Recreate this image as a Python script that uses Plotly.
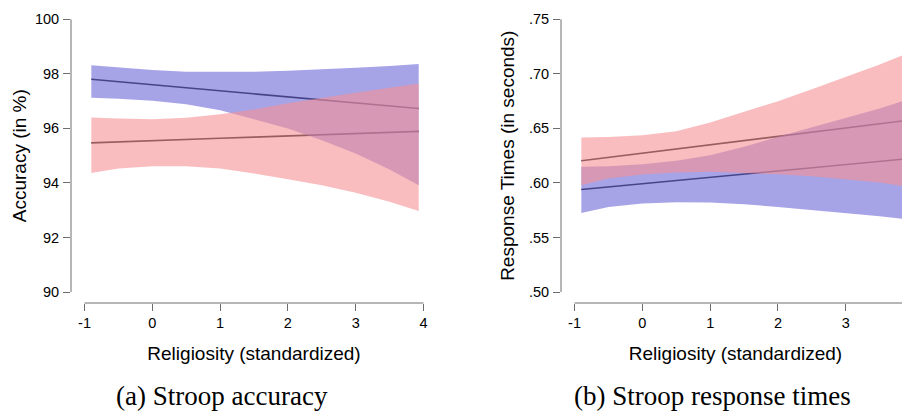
import plotly.graph_objects as go

# Religiosity (standardized) sample points
x = [-0.9, -0.5, 0, 0.5, 1, 1.5, 2, 2.5, 3, 3.5, 3.93]

# (a) Stroop accuracy (in %)
acc_blue_fit = [97.80, 97.71, 97.60, 97.49, 97.38, 97.27, 97.16, 97.05, 96.94, 96.83, 96.73]
acc_blue_hi = [98.32, 98.24, 98.14, 98.08, 98.07, 98.08, 98.11, 98.16, 98.22, 98.29, 98.36]
acc_blue_lo = [97.12, 97.09, 97.01, 96.89, 96.67, 96.33, 96.00, 95.57, 95.08, 94.49, 93.92]
acc_red_fit = [95.47, 95.50, 95.55, 95.59, 95.64, 95.68, 95.72, 95.77, 95.81, 95.85, 95.89]
acc_red_hi = [96.40, 96.36, 96.34, 96.39, 96.52, 96.69, 96.92, 97.12, 97.31, 97.49, 97.65]
acc_red_lo = [94.37, 94.53, 94.61, 94.61, 94.53, 94.35, 94.14, 93.92, 93.64, 93.31, 92.97]

# (b) Stroop response times (in seconds)
rt_blue_fit = [0.5940, 0.5963, 0.5993, 0.6022, 0.6052, 0.6081, 0.6110, 0.6140, 0.6169, 0.6198, 0.6224]
rt_blue_hi = [0.6148, 0.6154, 0.6172, 0.6203, 0.6255, 0.6331, 0.6423, 0.6509, 0.6591, 0.6683, 0.6769]
rt_blue_lo = [0.5725, 0.5780, 0.5811, 0.5823, 0.5820, 0.5805, 0.5780, 0.5753, 0.5725, 0.5695, 0.5664]
rt_red_fit = [0.6203, 0.6234, 0.6272, 0.6311, 0.6349, 0.6388, 0.6426, 0.6465, 0.6503, 0.6542, 0.6576]
rt_red_hi = [0.6417, 0.6422, 0.6438, 0.6475, 0.6555, 0.6650, 0.6750, 0.6860, 0.6975, 0.7085, 0.7195]
rt_red_lo = [0.5979, 0.6040, 0.6077, 0.6096, 0.6102, 0.6092, 0.6080, 0.6062, 0.6034, 0.6004, 0.5964]

x_ticks = [-1, 0, 1, 2, 3, 4]
acc_ticks = [90, 92, 94, 96, 98, 100]
rt_ticks = [0.50, 0.55, 0.60, 0.65, 0.70, 0.75]
rt_ticktext = [".50", ".55", ".60", ".65", ".70", ".75"]

BLUE = "rgba(108,102,215,0.6)"
RED = "rgba(245,145,148,0.6)"
AXC = "#6e6e6e"
SANS = "Liberation Sans, Arial, sans-serif"
SERIF = "Liberation Serif, Times New Roman, serif"

# page body has an 8px margin, so the figure is sized to fill the rest of the window
W, H = 902, 404
OFF = 8

fig = go.Figure()


def add_panel(xa, ya, fits, bands):
    for f in fits:
        fig.add_trace(go.Scatter(x=x, y=f, mode="lines", line=dict(color="#111111", width=1.6),
                                 xaxis=xa, yaxis=ya, showlegend=False, hoverinfo="skip"))
    for hi, lo, col in bands:
        fig.add_trace(go.Scatter(x=x + x[::-1], y=hi + lo[::-1], mode="lines", fill="toself",
                                 fillcolor=col, line=dict(width=0), xaxis=xa, yaxis=ya,
                                 showlegend=False, hoverinfo="skip"))


add_panel("x", "y", [acc_blue_fit, acc_red_fit],
          [(acc_blue_hi, acc_blue_lo, BLUE), (acc_red_hi, acc_red_lo, RED)])
add_panel("x2", "y2", [rt_blue_fit, rt_red_fit],
          [(rt_blue_hi, rt_blue_lo, BLUE), (rt_red_hi, rt_red_lo, RED)])


def px_x(p):
    return (p - OFF) / W


def px_y(p):
    return 1 - (p - OFF) / H


ydom = [px_y(303), min(1.0, px_y(8.4))]
common_ax = dict(showgrid=False, zeroline=False, showline=False, ticks="outside", ticklen=7,
                 tickcolor=AXC, tickwidth=1, tickfont=dict(family=SANS, size=14.5, color="black"))
title_font = dict(family=SANS, size=19, color="black")

fig.update_layout(
    width=W, height=H, margin=dict(l=0, r=0, t=0, b=0),
    plot_bgcolor="white", paper_bgcolor="white",
    xaxis=dict(domain=[px_x(71), px_x(437)], range=[-1.2, 4.2], tickvals=x_ticks,
               ticktext=[str(v) for v in x_ticks], anchor="y", ticklabelstandoff=0,
               title=dict(text="Religiosity (standardized)", font=title_font, standoff=16),
               **common_ax),
    yaxis=dict(domain=ydom, range=[89.6, 100.4], tickvals=acc_ticks, anchor="x", ticklabelstandoff=1,
               title=dict(text="Accuracy (in %)", font=title_font, standoff=3),
               **common_ax),
    xaxis2=dict(domain=[px_x(561), 1.0], range=[-1.2, 3.947], tickvals=x_ticks,
                ticktext=[str(v) for v in x_ticks], anchor="y2", ticklabelstandoff=0,
                title=dict(text="Religiosity (standardized)", font=title_font, standoff=16),
                **common_ax),
    yaxis2=dict(domain=ydom, range=[0.49, 0.76], tickvals=rt_ticks, ticktext=rt_ticktext, anchor="x2",
                ticklabelstandoff=1,
                title=dict(text="Response Times (in seconds)", font=title_font, standoff=9),
                **common_ax),
)

# R-style detached axis lines spanning only the tick range
for xr, yr, xt, yt in [("x", "y", x_ticks, acc_ticks), ("x2", "y2", x_ticks, rt_ticks)]:
    fig.add_shape(type="line", xref=xr, yref=yr + " domain", x0=xt[0], x1=xt[-1], y0=0, y1=0,
                  line=dict(color=AXC, width=1))
    fig.add_shape(type="line", xref=xr + " domain", yref=yr, x0=0, x1=0, y0=yt[0], y1=yt[-1],
                  line=dict(color=AXC, width=1))

fig.add_annotation(text="(a) Stroop accuracy", x=px_x(221.7), y=px_y(396), xref="paper", yref="paper",
                   xanchor="center", yanchor="middle", showarrow=False,
                   font=dict(family=SERIF, size=27, color="black"))
fig.add_annotation(text="(b) Stroop response times", x=px_x(712.5), y=px_y(396), xref="paper", yref="paper",
                   xanchor="center", yanchor="middle", showarrow=False,
                   font=dict(family=SERIF, size=27, color="black"))

fig.write_html("out.html")
